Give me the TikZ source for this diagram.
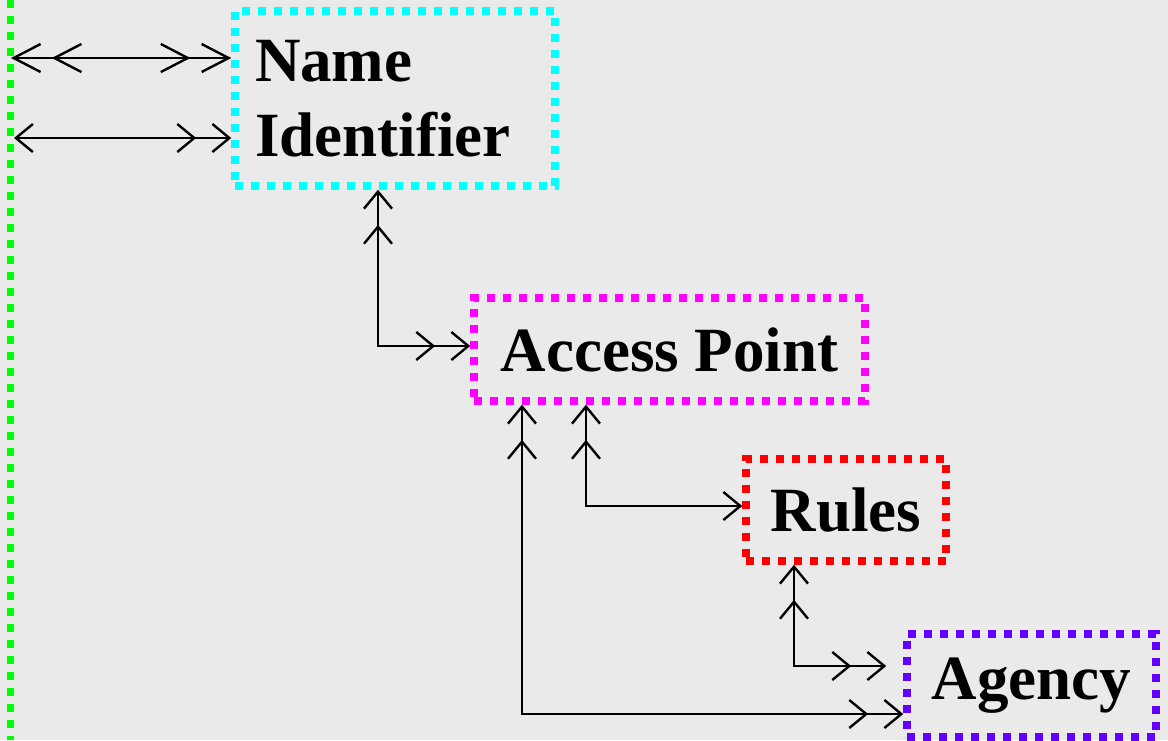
\documentclass[tikz,border=0pt]{standalone}
\usepackage{fontspec}
\setmainfont{Liberation Serif}
\usetikzlibrary{arrows.meta}
\definecolor{bg}{RGB}{234,234,234}
\definecolor{cyanb}{RGB}{0,255,255}
\definecolor{magb}{RGB}{255,0,255}
\definecolor{redb}{RGB}{255,0,0}
\definecolor{purb}{RGB}{100,0,255}
\definecolor{greenb}{RGB}{0,255,0}
\tikzset{
  box/.style={draw, rectangle, line width=7.5pt, dash pattern=on 8pt off 8pt,
    inner sep=0pt, font=\fontsize{63}{75}\selectfont\bfseries},
  conn/.style={draw=black, line width=2.4pt},
  barb/.tip={Straight Barb[length=17pt,width=28pt]},
  barbs/.tip={Straight Barb[length=17pt,width=28pt,sep=15pt]},
  lbarb/.tip={Straight Barb[length=27pt,width=28pt]},
  lbarbs/.tip={Straight Barb[length=27pt,width=28pt,sep=10pt]},
}
\begin{document}
\begin{tikzpicture}[x=1pt,y=-1pt]
\fill[bg] (0,0) rectangle (1168,740);
\useasboundingbox (0,0) rectangle (1168,740);

% green dotted line
\coordinate (gtop) at (10.5,0);
\coordinate (gbot) at (10.5,740);
\draw[draw=greenb, line width=7.5pt, dash pattern=on 8pt off 8pt] (gtop) -- (gbot);

% boxes
\node[box, draw=cyanb, minimum width=320pt, minimum height=175pt,
      text width=280pt, inner xsep=20pt, align=left] (ni) at (395,98.5)
      {Name\\Identifier};
\node[box, draw=magb, minimum width=391pt, minimum height=103pt] (ap) at (669.5,349.5) {Access Point};
\node[box, draw=redb, minimum width=200pt, minimum height=102pt] (ru) at (846,510) {Rules};
\node[box, draw=purb, minimum width=249pt, minimum height=103pt] (ag) at (1031.5,685.5) {Agency};

% free ends on the green line
\coordinate (g1) at (11,58);
\coordinate (g2) at (14,138);

% connectors
\draw[conn, {lbarb[]lbarbs[]}-{lbarbs[]lbarb[]}] (g1) -- (g1 -| ni.west);
\draw[conn, {barb[]}-{barbs[]barb[]}] (g2) -- (g2 -| ni.west);
\draw[conn, {barb[]barbs[]}-{barbs[]barb[]}] ([xshift=-17pt]ni.south) |- ([yshift=3.5pt]ap.west);
\draw[conn, {barb[]barbs[]}-{barb[]}] ([xshift=-83.5pt]ap.south) |- ([yshift=4pt]ru.west);
\draw[conn, {barb[]barbs[]}-{barbs[]barb[]}] ([xshift=-147.5pt]ap.south) |- ([yshift=-28.5pt]ag.west);
\draw[conn, {barb[]barbs[]}-{barbs[]barb[]}] ([xshift=-52pt]ru.south) |- ([xshift=-17pt,yshift=19.5pt]ag.west);
\end{tikzpicture}
\end{document}
